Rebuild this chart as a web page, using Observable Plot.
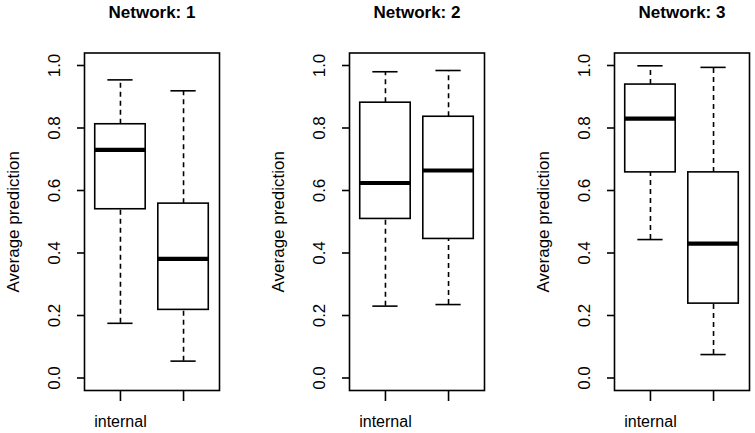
<!DOCTYPE html>
<html>
<head>
<meta charset="utf-8">
<script src="https://cdn.jsdelivr.net/npm/d3@7"></script>
<script src="https://cdn.jsdelivr.net/npm/@observablehq/plot@0.6"></script>
<style>
  html, body { margin: 0; padding: 0; background: #fff; }
  #chart { position: relative; width: 755px; height: 433px; overflow: hidden; background: #fff; }
  #chart > svg { position: absolute; top: 0; }
</style>
</head>
<body>
<div id="chart"></div>
<script>
// ---- data ----
const networks = ["Network: 1", "Network: 2", "Network: 3"];
const groupPositions = [1, 2];
const groupTickLabels = ["internal", ""];
const yTicks = [0, 0.2, 0.4, 0.6, 0.8, 1.0];
const yLabel = "Average prediction";

// per network: [group1, group2]
const whiskerLow  = [[0.175, 0.054], [0.230, 0.235], [0.443, 0.075]];
const q1          = [[0.540, 0.218], [0.509, 0.445], [0.658, 0.238]];
const median      = [[0.730, 0.381], [0.624, 0.664], [0.830, 0.430]];
const q3          = [[0.812, 0.558], [0.881, 0.836], [0.939, 0.658]];
const whiskerHigh = [[0.954, 0.919], [0.980, 0.984], [0.999, 0.994]];

// ---- layout ----
const font = "'Liberation Sans', Arial, Helvetica, sans-serif";
const panelLeft = [0, 265, 530];
const panelWidth = [265, 265, 225];
const boxHalf = 0.4, capHalf = 0.2, lw = 1.6;

const chart = document.getElementById("chart");

networks.forEach((title, p) => {
  const rows = groupPositions.map((pos, g) => ({
    pos, lo: whiskerLow[p][g], q1: q1[p][g], med: median[p][g],
    q3: q3[p][g], hi: whiskerHigh[p][g]
  }));
  const svg = Plot.plot({
    width: panelWidth[p],
    height: 433,
    marginLeft: 84,
    marginRight: panelWidth[p] - 84 - 135,
    marginTop: 52.5,
    marginBottom: 43,
    style: { fontFamily: font, background: "transparent", color: "#000" },
    x: { type: "linear", domain: [0.43, 2.57] },
    y: { domain: [-0.04, 1.04] },
    marks: [
      Plot.frame({ stroke: "#000", strokeWidth: lw }),
      // whiskers
      Plot.ruleX(rows, { x: "pos", y1: "q3", y2: "hi", stroke: "#000", strokeWidth: lw, strokeDasharray: "5,4" }),
      Plot.ruleX(rows, { x: "pos", y1: "lo", y2: "q1", stroke: "#000", strokeWidth: lw, strokeDasharray: "5,4" }),
      Plot.ruleY(rows, { y: "hi", x1: d => d.pos - capHalf, x2: d => d.pos + capHalf, stroke: "#000", strokeWidth: lw }),
      Plot.ruleY(rows, { y: "lo", x1: d => d.pos - capHalf, x2: d => d.pos + capHalf, stroke: "#000", strokeWidth: lw }),
      // boxes
      Plot.rect(rows, { x1: d => d.pos - boxHalf, x2: d => d.pos + boxHalf, y1: "q1", y2: "q3", fill: "#fff", stroke: "#000", strokeWidth: lw }),
      Plot.ruleY(rows, { y: "med", x1: d => d.pos - boxHalf, x2: d => d.pos + boxHalf, stroke: "#000", strokeWidth: 4.2 }),
      // y axis
      Plot.axisY({ ticks: yTicks, tickSize: 7, tickFormat: () => "", label: null, strokeWidth: lw }),
      Plot.text(yTicks, { y: d => d, text: d => d.toFixed(1), frameAnchor: "left", dx: -30, rotate: -90, textAnchor: "middle", lineAnchor: "middle", fontSize: 17, fill: "#000" }),
      Plot.text([yLabel], { text: d => d, frameAnchor: "left", dx: -71, rotate: -90, textAnchor: "middle", lineAnchor: "middle", fontSize: 17, fill: "#000" }),
      // x axis
      Plot.axisX({ ticks: groupPositions, tickSize: 11, tickPadding: 14.5, tickFormat: d => groupTickLabels[groupPositions.indexOf(d)], label: null, fontSize: 16, strokeWidth: lw }),
      // title
      Plot.text([title], { text: d => d, frameAnchor: "top", dy: -40.5, lineAnchor: "middle", fontSize: 17, fontWeight: "bold", fill: "#000" })
    ]
  });
  svg.style.left = panelLeft[p] + "px";
  chart.appendChild(svg);
});
</script>
</body>
</html>
